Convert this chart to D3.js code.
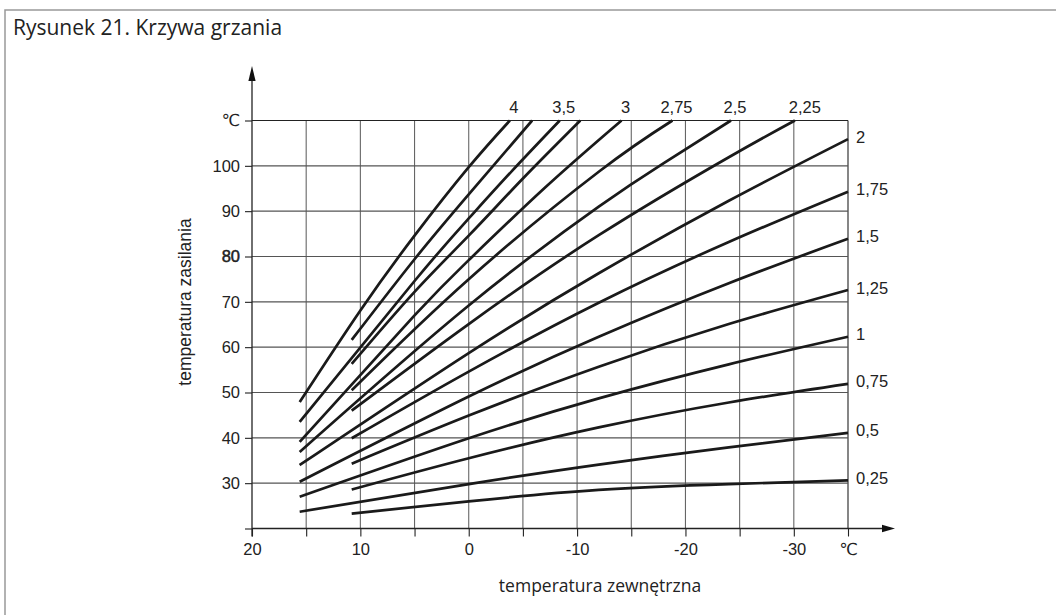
<!DOCTYPE html>
<html>
<head>
<meta charset="utf-8">
<script src="https://cdn.jsdelivr.net/npm/d3@7"></script>
<style>
  body { margin: 0; background: #fff; }
  svg { display: block; }
</style>
</head>
<body>
<script>
const width = 1056;
const height = 615;

// Krzywe grzania: [temperatura zewnętrzna, temperatura zasilania]
const c400 = [[15.6, 47.9], [10, 68.1], [5, 84.6], [0, 99.7], [-3.8, 110]];
const c375 = [[10.8, 61.6], [5, 79.4], [0, 93.7], [-5.85, 110]];
const c350 = [[15.6, 43.5], [5, 74.6], [0, 88.4], [-4, 98.9], [-8.4, 110]];
const c325 = [[10.8, 56.3], [5, 72.2], [0, 84.6], [-5, 97.2], [-10.3, 110]];
const c300 = [[15.6, 39.1], [5, 67.0], [0, 79.2], [-7, 95.1], [-14.1, 110]];
const c275 = [[10.8, 50.5], [0, 75.0], [-12, 98.7], [-18.8, 110]];
const c250 = [[15.6, 36.9], [0, 69.2], [-12, 91.0], [-18, 100.6], [-24.2, 110]];
const c225 = [[10.8, 46.0], [0, 65.1], [-12, 84.7], [-24, 101.9], [-30.1, 110]];
const c200 = [[15.6, 34.0], [0, 58.7], [-12, 76.3], [-24, 92.3], [-35, 105.9]];
const c175 = [[10.8, 39.9], [0, 54.6], [-12, 69.8], [-24, 83.2], [-35, 94.3]];
const c150 = [[15.6, 30.3], [0, 49.1], [-12, 62.3], [-24, 74.1], [-35, 83.9]];
const c125 = [[10.8, 34.3], [0, 44.9], [-12, 55.7], [-24, 65.1], [-35, 72.6]];
const c100 = [[15.6, 27.0], [0, 39.9], [-12, 48.7], [-24, 56.2], [-35, 62.3]];
const c075 = [[10.8, 28.6], [0, 35.5], [-12, 42.3], [-24, 47.8], [-35, 51.9]];
const c050 = [[15.6, 23.7], [0, 29.8], [-12, 34.1], [-24, 37.9], [-35, 41.1]];
const c025 = [[10.8, 23.3], [0, 26.0], [-12, 28.5], [-24, 29.8], [-35, 30.6]];

const curveData = [c400, c375, c350, c325, c300, c275, c250, c225,
                   c200, c175, c150, c125, c100, c075, c050, c025];
const curveLabels = ["4", "", "3,5", "", "3", "2,75", "2,5", "2,25",
                     "2", "1,75", "1,5", "1,25", "1", "0,75", "0,5", "0,25"];

const xTicks = [20, 15, 10, 5, 0, -5, -10, -15, -20, -25, -30, -35];
const yTicks = [20, 30, 40, 50, 60, 70, 80, 90, 100, 110];

const svg = d3.select("body")
    .append("svg")
    .attr("width", width)
    .attr("height", height);

// ramka
svg.append("rect")
    .attr("x", 5).attr("y", 10)
    .attr("width", 1200).attr("height", 800)
    .attr("fill", "none")
    .attr("stroke", "#999")
    .attr("stroke-width", 1.5);

svg.append("text")
    .attr("x", 13).attr("y", 35)
    .attr("font-family", "Open Sans")
    .attr("font-size", 21)
    .attr("fill", "#222")
    .text("Rysunek 21. Krzywa grzania");

const x = d3.scaleLinear().domain([20, -35]).range([252, 848]);
const y = d3.scaleLinear().domain([20, 110]).range([528.5, 120.5]);

// siatka
svg.append("g")
    .selectAll("line")
    .data(xTicks.slice(1))
    .join("line")
    .attr("x1", d => x(d)).attr("x2", d => x(d))
    .attr("y1", y(20)).attr("y2", y(110))
    .attr("stroke", d => d === -35 ? "#222" : "#666")
    .attr("stroke-width", 1.1);

svg.append("g")
    .selectAll("line")
    .data(yTicks.slice(1))
    .join("line")
    .attr("x1", x(20)).attr("x2", x(-35))
    .attr("y1", d => y(d)).attr("y2", d => y(d))
    .attr("stroke", d => d === 110 ? "#222" : "#555")
    .attr("stroke-width", 1.1);

// osie
const tickFont = "Liberation Sans, Arial, DejaVu Sans";

const xAxis = svg.append("g")
    .attr("transform", `translate(0,${y(20)})`)
    .call(d3.axisBottom(x)
        .tickValues(xTicks)
        .tickSize(8)
        .tickPadding(7)
        .tickFormat(d => d === -35 ? "\u2103" : (d % 10 === 0 ? String(d) : "")));

const yAxis = svg.append("g")
    .attr("transform", `translate(${x(20)},0)`)
    .call(d3.axisLeft(y)
        .tickValues(yTicks)
        .tickSize(7)
        .tickPadding(5)
        .tickFormat(d => d === 110 ? "\u2103" : (d === 20 ? "" : String(d))));

[xAxis, yAxis].forEach(g => {
    g.select(".domain").remove();
    g.selectAll(".tick line").attr("stroke", "#222").attr("stroke-width", 1.1);
    g.selectAll(".tick text")
        .attr("font-family", tickFont)
        .attr("font-size", 16.5)
        .attr("fill", "#222");
});
yAxis.selectAll(".tick text").filter(d => d === 80)
    .attr("stroke", "#222").attr("stroke-width", 0.5);

svg.append("line")
    .attr("x1", x(20)).attr("x2", 884)
    .attr("y1", y(20)).attr("y2", y(20))
    .attr("stroke", "#222").attr("stroke-width", 1.3);
svg.append("line")
    .attr("x1", x(20)).attr("x2", x(20))
    .attr("y1", y(20) + 8).attr("y2", 78)
    .attr("stroke", "#222").attr("stroke-width", 1.3);

svg.append("path")
    .attr("d", `M895,${y(20)} L882,${y(20) - 3.8} L882,${y(20) + 3.8} Z`)
    .attr("fill", "#111");
svg.append("path")
    .attr("d", `M${x(20)},66 L${x(20) - 3.6},81 L${x(20) + 3.6},81 Z`)
    .attr("fill", "#111");

// krzywe
const line = d3.line()
    .x(d => x(d[0]))
    .y(d => y(d[1]))
    .curve(d3.curveNatural);

svg.append("g")
    .selectAll("path")
    .data(curveData)
    .join("path")
    .attr("d", line)
    .attr("fill", "none")
    .attr("stroke", "#1a1a1a")
    .attr("stroke-width", 2.7);

// etykiety krzywych
curveData.forEach((pts, i) => {
    const label = curveLabels[i];
    if (!label) return;
    const end = pts[pts.length - 1];
    if (end[1] >= 110) {
        svg.append("text")
            .attr("x", x(end[0]) + (label === "2,25" ? 10 : 4))
            .attr("y", 113)
            .attr("text-anchor", "middle")
            .attr("font-family", tickFont)
            .attr("font-size", 16.5)
            .attr("fill", "#222")
            .text(label);
    } else {
        svg.append("text")
            .attr("x", 856)
            .attr("y", y(end[1]) + 3.5)
            .attr("font-family", tickFont)
            .attr("font-size", 16.5)
            .attr("fill", "#222")
            .text(label);
    }
});

// tytuły osi
svg.append("text")
    .attr("x", 600).attr("y", 592)
    .attr("text-anchor", "middle")
    .attr("font-family", "Open Sans")
    .attr("font-size", 17.5)
    .attr("fill", "#222")
    .text("temperatura zewnętrzna");

svg.append("text")
    .attr("transform", "translate(191,302) rotate(-90)")
    .attr("text-anchor", "middle")
    .attr("font-family", "Liberation Sans, Arial")
    .attr("font-size", 17.5)
    .attr("fill", "#222")
    .text("temperatura zasilania");
</script>
</body>
</html>
